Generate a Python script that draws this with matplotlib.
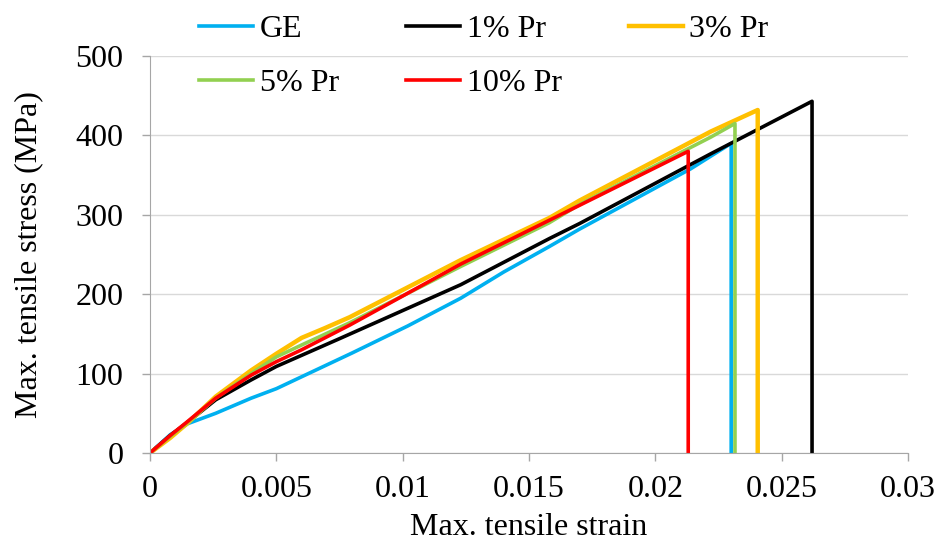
import matplotlib.pyplot as plt

plt.rcParams['font.family'] = ['Liberation Serif', 'DejaVu Serif']

# Stress-strain curves (strain, MPa); last point is the drop at failure
ge_strain = [0, 0.0008, 0.0015, 0.0026, 0.004, 0.005, 0.006, 0.007, 0.008, 0.0102,
             0.0123, 0.014, 0.0158, 0.017, 0.0214, 0.0230, 0.0230]
ge_stress = [0, 23, 37, 50, 69, 81, 96, 111, 126, 160, 195, 228, 260, 282, 358, 390, 0]

pr1_strain = [0, 0.0008, 0.0015, 0.0026, 0.004, 0.005, 0.006, 0.0075, 0.0123, 0.0158,
              0.017, 0.0222, 0.0262, 0.0262]
pr1_stress = [0, 22, 39, 67, 92, 109, 123, 144, 212, 270, 289, 377, 443, 0]

pr3_strain = [0, 0.0008, 0.0015, 0.0026, 0.004, 0.005, 0.006, 0.0069, 0.0079, 0.0123,
              0.0158, 0.017, 0.0222, 0.02405, 0.02405]
pr3_stress = [0, 19, 38, 71, 104, 125, 145, 157, 171, 243, 296, 318, 405, 432, 0]

pr5_strain = [0, 0.0008, 0.0015, 0.0026, 0.004, 0.005, 0.006, 0.0079, 0.0123, 0.0158,
              0.017, 0.0222, 0.02315, 0.02315]
pr5_stress = [0, 21, 39, 69, 100, 121, 136, 164, 235, 290, 313, 398, 415, 0]

pr10_strain = [0, 0.0008, 0.0015, 0.0026, 0.004, 0.005, 0.006, 0.0079, 0.0123, 0.017,
               0.0213, 0.0213]
pr10_stress = [0, 22, 40, 69, 98, 115, 130, 161, 238, 312, 380, 0]

x_ticks = [0, 0.005, 0.01, 0.015, 0.02, 0.025, 0.03]
x_labels = ['0', '0.005', '0.01', '0.015', '0.02', '0.025', '0.03']
y_ticks = [0, 100, 200, 300, 400, 500]

fig = plt.figure(figsize=(9.41, 5.44), dpi=100)
ax = fig.add_axes([0.1594, 0.1673, 0.8056, 0.7297])

l_ge, = ax.plot(ge_strain, ge_stress, color='#00B0F0', lw=2.6, label='GE')
l_1, = ax.plot(pr1_strain, pr1_stress, color='#000000', lw=2.6, label='1% Pr')
l_3, = ax.plot(pr3_strain, pr3_stress, color='#FFC000', lw=3.2, label='3% Pr')
l_5, = ax.plot(pr5_strain, pr5_stress, color='#92D050', lw=2.6, label='5% Pr')
l_10, = ax.plot(pr10_strain, pr10_stress, color='#FF0000', lw=2.6, label='10% Pr')

ax.set_xlim(0, 0.03)
ax.set_ylim(0, 500)
ax.set_xticks(x_ticks)
ax.set_xticklabels(x_labels)
ax.set_yticks(y_ticks)
ax.tick_params(labelsize=23, length=6, width=1, color='#A6A6A6')
ax.tick_params(axis='x', pad=10)
ax.tick_params(axis='y', pad=13)
ax.grid(axis='y', color='#D9D9D9', lw=1)
ax.set_axisbelow(True)
for side in ['top', 'right']:
    ax.spines[side].set_visible(False)
for side in ['left', 'bottom']:
    ax.spines[side].set_color('#A6A6A6')

ax.set_xlabel('Max. tensile strain', fontsize=23, labelpad=6)
ax.set_ylabel('Max. tensile stress (MPa)', fontsize=23, labelpad=23)

# order handles so the rows read GE, 1%, 3% / 5%, 10%
handles = [l_ge, l_5, l_1, l_10, l_3]
fig.legend(handles, [h.get_label() for h in handles], ncol=3, loc='upper left',
           bbox_to_anchor=(0.181, 1.026), frameon=False, fontsize=23,
           handlelength=1.7, handletextpad=0.2, columnspacing=2.1,
           labelspacing=0.77)

fig.savefig('out.png', dpi=100)
